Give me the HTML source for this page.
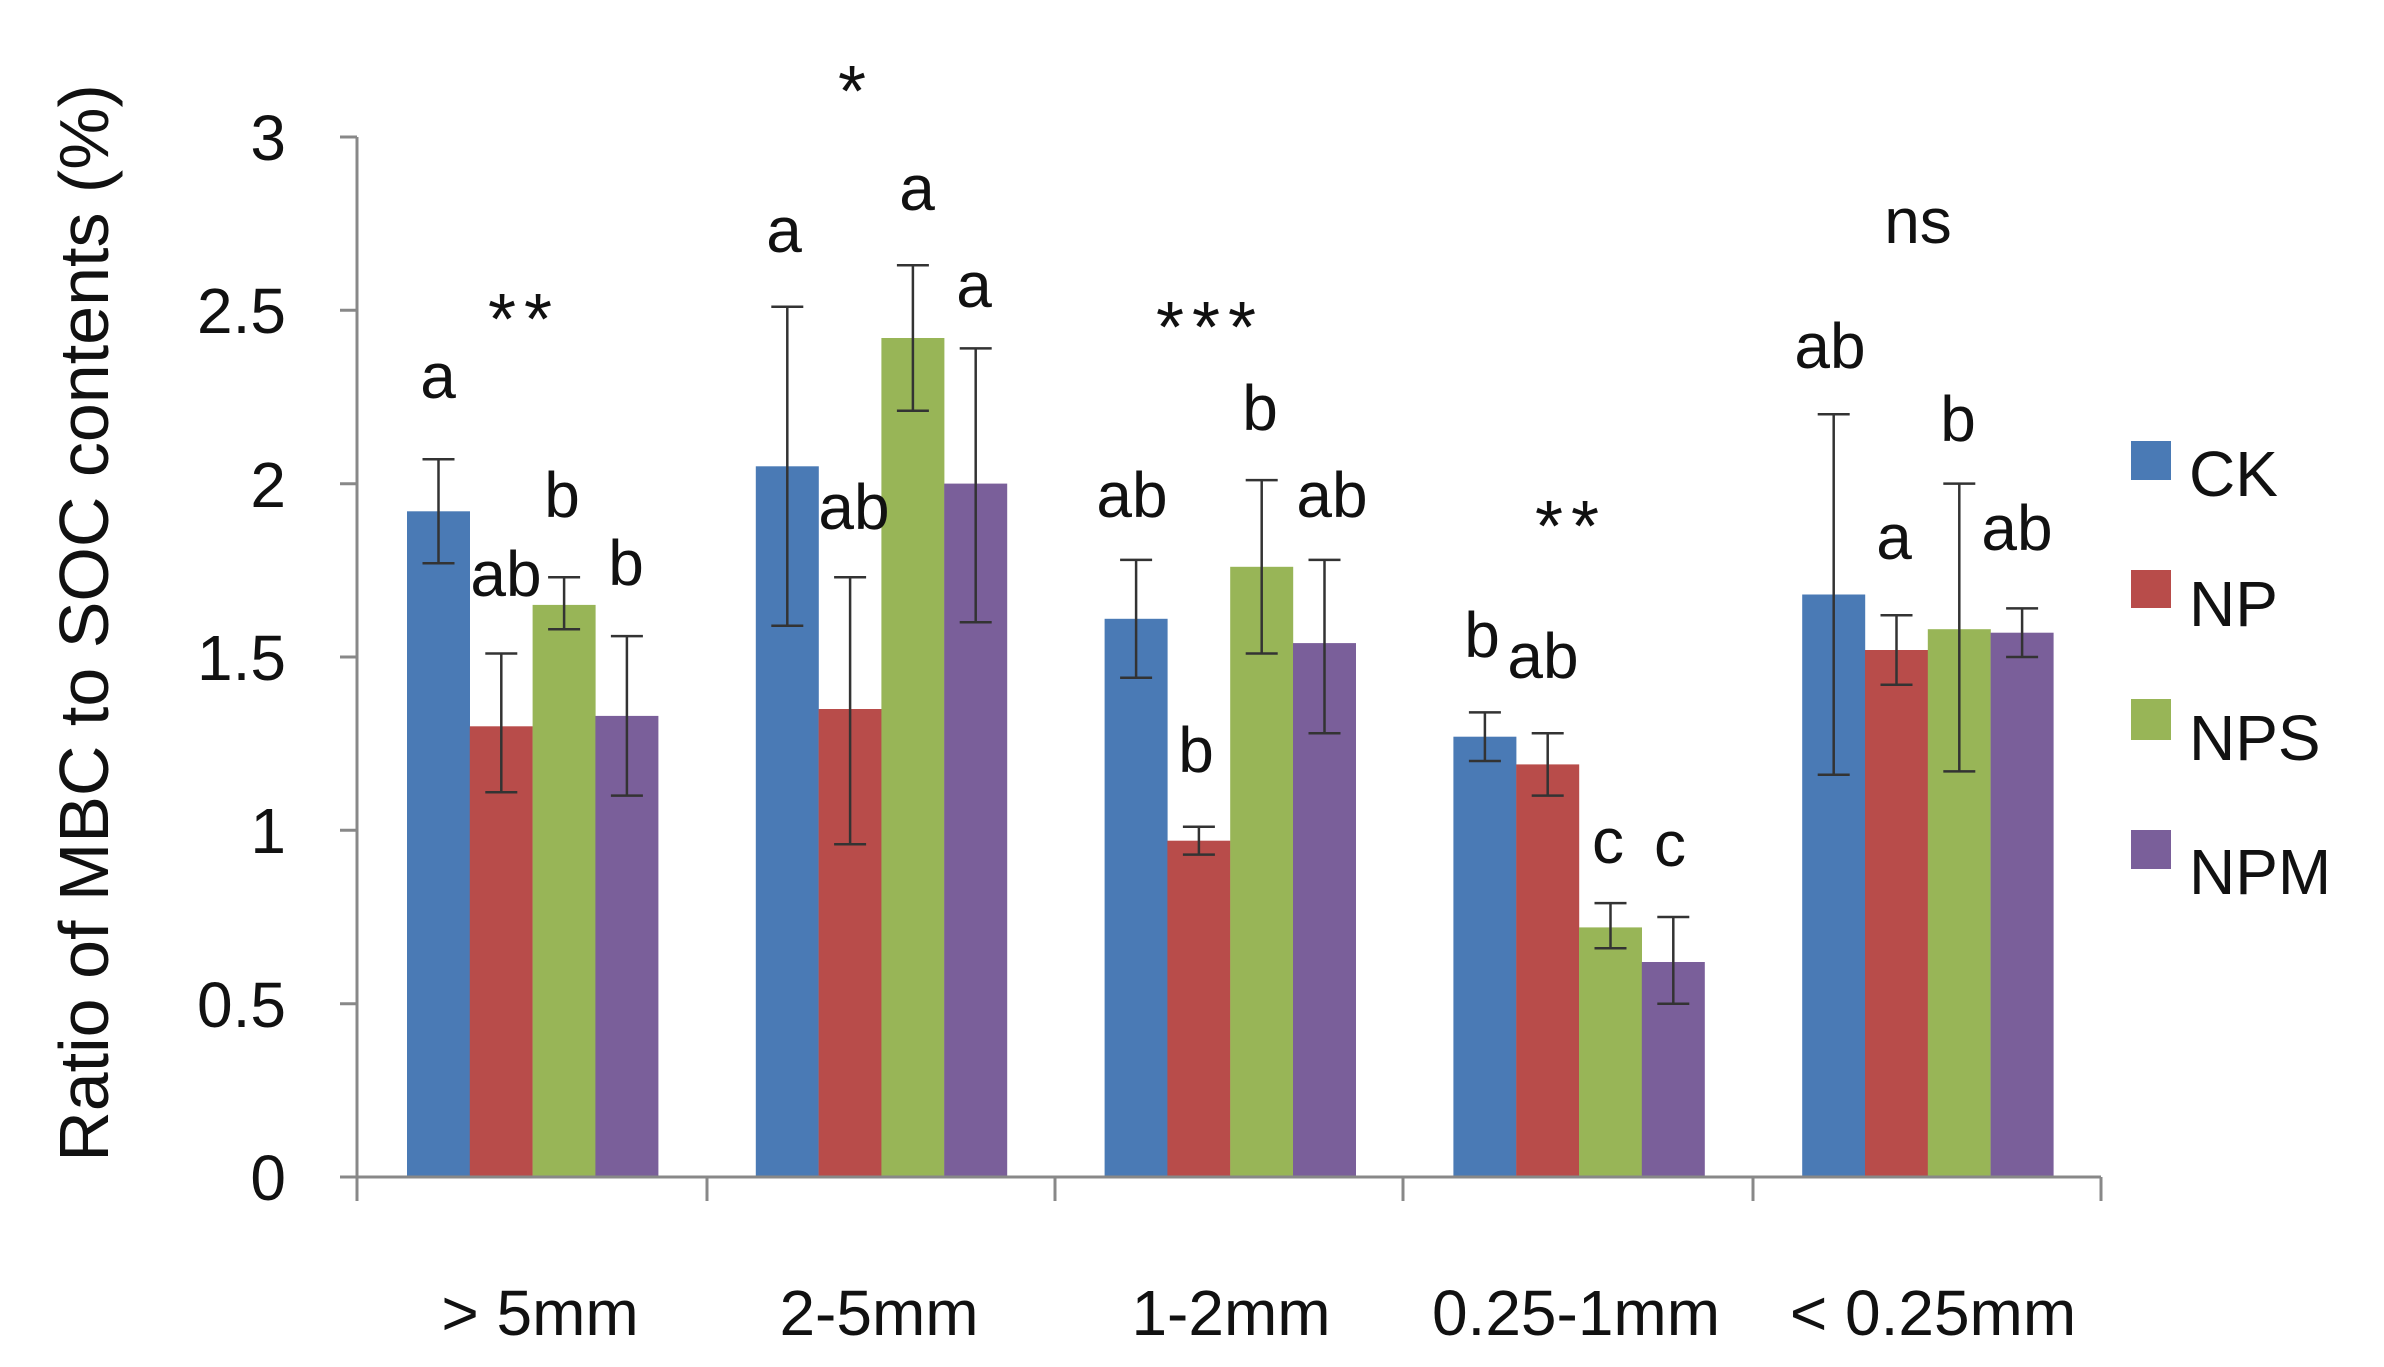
<!DOCTYPE html>
<html><head><style>body{margin:0;background:#fff}svg{display:block}</style></head><body>
<svg width="2384" height="1367" xmlns="http://www.w3.org/2000/svg" font-family="Liberation Sans, Arial, sans-serif">
<rect width="2384" height="1367" fill="#fff"/>
<g>
<rect x="407" y="511.3" width="63" height="665.7" fill="#4a7ab5"/>
<rect x="469.8" y="726.3" width="63" height="450.7" fill="#b84c4a"/>
<rect x="532.6" y="604.9" width="63" height="572.1" fill="#98b557"/>
<rect x="595.4" y="715.9" width="63" height="461.1" fill="#7a5f9a"/>
<rect x="755.8" y="466.3" width="63" height="710.7" fill="#4a7ab5"/>
<rect x="818.6" y="709" width="63" height="468" fill="#b84c4a"/>
<rect x="881.4" y="338" width="63" height="839" fill="#98b557"/>
<rect x="944.2" y="483.6" width="63" height="693.4" fill="#7a5f9a"/>
<rect x="1104.6" y="618.8" width="63" height="558.2" fill="#4a7ab5"/>
<rect x="1167.4" y="840.7" width="63" height="336.3" fill="#b84c4a"/>
<rect x="1230.2" y="566.8" width="63" height="610.2" fill="#98b557"/>
<rect x="1293" y="643.1" width="63" height="533.9" fill="#7a5f9a"/>
<rect x="1453.4" y="736.7" width="63" height="440.3" fill="#4a7ab5"/>
<rect x="1516.2" y="764.4" width="63" height="412.6" fill="#b84c4a"/>
<rect x="1579" y="927.4" width="63" height="249.6" fill="#98b557"/>
<rect x="1641.8" y="962" width="63" height="215" fill="#7a5f9a"/>
<rect x="1802.2" y="594.5" width="63" height="582.5" fill="#4a7ab5"/>
<rect x="1865" y="650" width="63" height="527" fill="#b84c4a"/>
<rect x="1927.8" y="629.2" width="63" height="547.8" fill="#98b557"/>
<rect x="1990.6" y="632.7" width="63" height="544.3" fill="#7a5f9a"/>
</g>
<g stroke="#333" stroke-width="2.5" fill="none">
<path d="M438.5 563.3V459.3M422.5 563.3h32M422.5 459.3h32"/>
<path d="M501.3 792.2V653.5M485.3 792.2h32M485.3 653.5h32"/>
<path d="M564.1 629.2V577.2M548.1 629.2h32M548.1 577.2h32"/>
<path d="M626.9 795.6V636.1M610.9 795.6h32M610.9 636.1h32"/>
<path d="M787.3 625.7V306.8M771.3 625.7h32M771.3 306.8h32"/>
<path d="M850.1 844.2V577.2M834.1 844.2h32M834.1 577.2h32"/>
<path d="M912.9 410.8V265.2M896.9 410.8h32M896.9 265.2h32"/>
<path d="M975.7 622.3V348.4M959.7 622.3h32M959.7 348.4h32"/>
<path d="M1136.1 677.8V559.9M1120.1 677.8h32M1120.1 559.9h32"/>
<path d="M1198.9 854.6V826.8M1182.9 854.6h32M1182.9 826.8h32"/>
<path d="M1261.7 653.5V480.1M1245.7 653.5h32M1245.7 480.1h32"/>
<path d="M1324.5 733.2V559.9M1308.5 733.2h32M1308.5 559.9h32"/>
<path d="M1484.9 761V712.4M1468.9 761h32M1468.9 712.4h32"/>
<path d="M1547.7 795.6V733.2M1531.7 795.6h32M1531.7 733.2h32"/>
<path d="M1610.5 948.2V903.1M1594.5 948.2h32M1594.5 903.1h32"/>
<path d="M1673.3 1003.7V917M1657.3 1003.7h32M1657.3 917h32"/>
<path d="M1833.7 774.8V414.3M1817.7 774.8h32M1817.7 414.3h32"/>
<path d="M1896.5 684.7V615.3M1880.5 684.7h32M1880.5 615.3h32"/>
<path d="M1959.3 771.4V483.6M1943.3 771.4h32M1943.3 483.6h32"/>
<path d="M2022.1 657V608.4M2006.1 657h32M2006.1 608.4h32"/>
</g>
<g stroke="#888" stroke-width="3" fill="none">
<line x1="357" y1="137" x2="357" y2="1201"/>
<line x1="357" y1="1177" x2="2101" y2="1177"/>
<line x1="340" y1="137" x2="357" y2="137"/><line x1="340" y1="310.3" x2="357" y2="310.3"/>
<line x1="340" y1="483.7" x2="357" y2="483.7"/><line x1="340" y1="657" x2="357" y2="657"/>
<line x1="340" y1="830.3" x2="357" y2="830.3"/><line x1="340" y1="1003.7" x2="357" y2="1003.7"/>
<line x1="340" y1="1177" x2="357" y2="1177"/>
<line x1="707" y1="1177" x2="707" y2="1201"/><line x1="1055" y1="1177" x2="1055" y2="1201"/>
<line x1="1403" y1="1177" x2="1403" y2="1201"/><line x1="1753" y1="1177" x2="1753" y2="1201"/>
<line x1="2101" y1="1177" x2="2101" y2="1201"/>
</g>
<g font-size="64" text-anchor="end" fill="#111">
<text x="286" y="160">3</text><text x="286" y="333">2.5</text><text x="286" y="507">2</text>
<text x="286" y="680">1.5</text><text x="286" y="853">1</text><text x="286" y="1027">0.5</text><text x="286" y="1200">0</text>
</g>
<text transform="translate(108,623) rotate(-90)" font-size="70" text-anchor="middle" fill="#111">Ratio of MBC to SOC contents (%)</text>
<g font-size="64" text-anchor="middle" fill="#111">
<text x="540" y="1335">&gt; 5mm</text><text x="879" y="1335">2-5mm</text><text x="1231" y="1335">1-2mm</text>
<text x="1576" y="1335">0.25-1mm</text><text x="1933" y="1335">&lt; 0.25mm</text>
</g>
<g font-size="64" text-anchor="middle" fill="#111">
<text x="438" y="398">a</text><text x="506" y="596">ab</text><text x="562" y="517">b</text><text x="626" y="585">b</text>
<text x="784" y="252">a</text><text x="854" y="529">ab</text><text x="917" y="210">a</text><text x="974" y="307">a</text>
<text x="1132" y="517">ab</text><text x="1196" y="772">b</text><text x="1260" y="430">b</text><text x="1332" y="517">ab</text>
<text x="1482" y="657">b</text><text x="1543" y="678">ab</text><text x="1608" y="863">c</text><text x="1670" y="866">c</text>
<text x="1830" y="368">ab</text><text x="1894" y="559">a</text><text x="1958" y="441">b</text><text x="2017" y="550">ab</text>
<text x="1918" y="243">ns</text>
</g>
<g font-size="72" text-anchor="middle" fill="#111" letter-spacing="8">
<text x="524" y="344">**</text><text x="852" y="116" letter-spacing="0">*</text>
<text x="1210" y="352">***</text><text x="1571" y="551">**</text>
</g>
<g font-size="64" fill="#111">
<rect x="2131" y="441" width="40" height="39" fill="#4a7ab5"/><text x="2189" y="496">CK</text>
<rect x="2131" y="570" width="40" height="38" fill="#b84c4a"/><text x="2189" y="626">NP</text>
<rect x="2131" y="699" width="40" height="41" fill="#98b557"/><text x="2189" y="760">NPS</text>
<rect x="2131" y="830" width="40" height="39" fill="#7a5f9a"/><text x="2189" y="894">NPM</text>
</g>
</svg>
</body></html>
